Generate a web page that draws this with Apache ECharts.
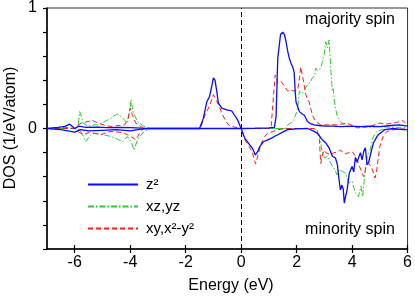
<!DOCTYPE html>
<html><head><meta charset="utf-8">
<script src="https://cdn.jsdelivr.net/npm/echarts@6/dist/echarts.min.js"></script>
<style>html,body{margin:0;padding:0;background:#fff}#c{width:415px;height:296px}</style>
</head><body><div id="c"></div>
<script>
// ---- data (Energy eV, DOS 1/eV/atom) ----
const xTicks = [-6, -4, -2, 0, 2, 4, 6];
const yTicks = [-1, -0.8, -0.6, -0.4, -0.2, 0, 0.2, 0.4, 0.6, 0.8, 1];
const yLabels = [0, 1];
const names = ['z\u00B2', 'xz,yz', 'xy,x\u00B2-y\u00B2'];

const z2Up = [[-7,0],[-6.6,0.01],[-6.36,0.017],[-6.18,0.036],[-6.0,0.0],[-5.85,0.02],[-5.6,0.01],[-5.2,0.012],[-4.8,0.008],[-4.4,0.01],[-4.0,0.008],[-3.6,0.003],[-3.3,0],[-1.5,0],[-1.36,0.086],[-1.24,0.22],[-1.14,0.265],[-1.06,0.35],[-1.0,0.42],[-0.94,0.40],[-0.88,0.31],[-0.82,0.21],[-0.7,0.17],[-0.52,0.155],[-0.34,0.147],[-0.25,0.114],[-0.13,0.072],[0,0],[0.5,0.002],[1.0,0.005],[1.2,0.01],[1.26,0.1],[1.32,0.58],[1.42,0.78],[1.5,0.80],[1.56,0.78],[1.62,0.72],[1.68,0.64],[1.74,0.58],[1.8,0.54],[1.86,0.51],[1.91,0.47],[1.95,0.30],[1.98,0.22],[2.1,0.14],[2.2,0.12],[2.28,0.11],[2.39,0.058],[2.5,0.04],[2.63,0.03],[2.8,0.025],[3.0,0.02],[3.3,0.02],[3.6,0.015],[4.0,0.02],[4.3,0.015],[4.6,0.02],[5.0,0.015],[5.4,0.025],[5.7,0.03],[6.0,0.02]];
const z2Dn = [[-7,0],[-6.5,-0.01],[-6.0,-0.03],[-5.8,-0.01],[-5.5,-0.02],[-5.0,-0.015],[-4.5,-0.01],[-4.0,-0.02],[-3.6,-0.005],[-3.3,0],[0,0],[0.13,-0.08],[0.31,-0.135],[0.42,-0.17],[0.51,-0.22],[0.6,-0.19],[0.67,-0.15],[0.8,-0.11],[0.96,-0.094],[1.1,-0.08],[1.2,-0.066],[1.32,-0.052],[1.5,-0.03],[1.68,-0.01],[2.0,-0.003],[2.39,0],[2.6,-0.02],[2.75,-0.04],[2.93,-0.094],[3.05,-0.12],[3.17,-0.16],[3.29,-0.23],[3.4,-0.245],[3.47,-0.3],[3.53,-0.425],[3.58,-0.51],[3.63,-0.47],[3.68,-0.5],[3.72,-0.62],[3.77,-0.56],[3.82,-0.51],[3.9,-0.37],[4.0,-0.315],[4.06,-0.36],[4.12,-0.24],[4.18,-0.28],[4.3,-0.2],[4.36,-0.26],[4.42,-0.19],[4.48,-0.16],[4.54,-0.3],[4.6,-0.28],[4.65,-0.23],[4.77,-0.12],[4.89,-0.07],[4.95,-0.05],[5.0,-0.04],[5.18,-0.01],[5.48,0],[5.84,-0.01],[6.0,-0.01]];
const xzUp = [[-7,0],[-6.0,0],[-5.88,0.017],[-5.82,0.14],[-5.76,0.1],[-5.7,0.045],[-5.52,0.017],[-5.3,0.03],[-5.17,0.03],[-4.9,0.06],[-4.69,0.086],[-4.55,0.11],[-4.45,0.12],[-4.27,0.086],[-4.1,0.045],[-4.02,0.15],[-3.97,0.24],[-3.92,0.17],[-3.88,0.13],[-3.74,0.058],[-3.5,0.017],[-3.26,0],[1.6,0],[1.68,0.03],[1.86,0.058],[1.95,0.1],[2.04,0.17],[2.1,0.31],[2.2,0.29],[2.3,0.33],[2.39,0.36],[2.48,0.38],[2.57,0.42],[2.65,0.44],[2.69,0.50],[2.75,0.48],[2.81,0.47],[2.87,0.5],[2.93,0.555],[3.0,0.62],[3.05,0.72],[3.11,0.67],[3.17,0.735],[3.2,0.62],[3.23,0.50],[3.26,0.4],[3.29,0.31],[3.32,0.33],[3.35,0.25],[3.4,0.17],[3.46,0.11],[3.55,0.07],[3.64,0.045],[3.8,0.02],[4.2,0.015],[4.6,0.01],[5.0,0.015],[5.5,0.01],[6.0,0.01]];
const xzDn = [[-7,0],[-6.0,0],[-5.82,-0.01],[-5.7,-0.06],[-5.6,-0.11],[-5.52,-0.08],[-5.4,-0.05],[-5.29,-0.04],[-5.0,-0.05],[-4.69,-0.066],[-4.45,-0.09],[-4.27,-0.11],[-4.1,-0.066],[-3.95,-0.12],[-3.86,-0.18],[-3.74,-0.094],[-3.5,-0.025],[-3.26,0],[2.57,0],[2.75,-0.01],[2.85,-0.08],[2.9,-0.17],[3.0,-0.245],[3.11,-0.23],[3.23,-0.29],[3.35,-0.33],[3.46,-0.385],[3.53,-0.34],[3.64,-0.355],[3.76,-0.37],[3.88,-0.45],[4.0,-0.44],[4.12,-0.535],[4.23,-0.565],[4.32,-0.48],[4.38,-0.565],[4.44,-0.425],[4.54,-0.23],[4.65,-0.18],[4.77,-0.066],[4.89,-0.025],[5.07,-0.01],[5.5,-0.005],[6.0,-0.01]];
const xyUp = [[-7,0],[-6.6,0],[-6.36,0.01],[-6.0,0],[-5.88,0.03],[-5.76,0.045],[-5.52,0.058],[-5.35,0.066],[-5.17,0.045],[-4.9,0.025],[-4.69,0.017],[-4.4,0.025],[-4.2,0.03],[-4.08,0.08],[-4.0,0.17],[-3.92,0.11],[-3.8,0.045],[-3.62,0.017],[-3.5,0],[-1.47,0],[-1.3,0.11],[-1.12,0.20],[-1.0,0.28],[-0.94,0.265],[-0.82,0.20],[-0.7,0.13],[-0.58,0.072],[-0.46,0.03],[-0.22,0.01],[0,0],[1.0,0],[1.08,0.01],[1.18,0.31],[1.23,0.445],[1.28,0.40],[1.32,0.375],[1.44,0.39],[1.5,0.37],[1.56,0.35],[1.68,0.31],[1.8,0.32],[1.91,0.31],[2.04,0.32],[2.1,0.42],[2.15,0.51],[2.2,0.50],[2.26,0.38],[2.33,0.28],[2.45,0.22],[2.57,0.11],[2.69,0.058],[2.87,0.03],[3.2,0.03],[3.46,0.03],[3.82,0.045],[4.0,0.025],[4.18,0.005],[4.4,0.01],[4.65,0.017],[5.0,0.045],[5.2,0.035],[5.43,0.045],[5.6,0.05],[5.73,0.058],[5.84,0.065],[5.92,0.045],[6.0,0.03]];
const xyDn = [[-7,0],[-6.0,0],[-5.88,-0.025],[-5.7,-0.05],[-5.5,-0.035],[-5.29,-0.04],[-5.05,-0.05],[-4.8,-0.03],[-4.69,-0.025],[-4.4,-0.03],[-4.2,-0.04],[-3.98,-0.066],[-3.8,-0.094],[-3.62,-0.025],[-3.5,0],[0,0],[0.13,-0.094],[0.25,-0.135],[0.39,-0.19],[0.49,-0.27],[0.52,-0.295],[0.61,-0.22],[0.73,-0.12],[0.85,-0.066],[0.96,-0.04],[1.15,-0.025],[1.32,-0.01],[1.6,0],[2.63,0],[2.75,-0.025],[2.82,-0.09],[2.87,-0.29],[2.93,-0.22],[3.0,-0.18],[3.05,-0.2],[3.12,-0.19],[3.23,-0.22],[3.35,-0.2],[3.46,-0.2],[3.55,-0.18],[3.64,-0.19],[3.75,-0.21],[3.82,-0.22],[3.9,-0.2],[4.0,-0.19],[4.12,-0.23],[4.23,-0.29],[4.36,-0.37],[4.42,-0.4],[4.5,-0.32],[4.6,-0.29],[4.7,-0.32],[4.83,-0.41],[4.89,-0.34],[5.0,-0.15],[5.12,-0.066],[5.25,-0.025],[5.5,-0.01],[6.0,0]];

// ---- styles ----
const FONT = 'Liberation Sans';
const BLUE = '#0a0aff', GREEN = '#2ecc2e', RED = '#ff1a1a';
const styles = {
  b: {color: BLUE, width: 1.3, type: 'solid'},
  g: {color: GREEN, width: 1, type: [6, 2, 1.5, 2]},
  r: {color: RED, width: 1, type: [5, 3]}
};
function mk(name, data, st, z) {
  return {name, type: 'line', data, symbol: 'none', showSymbol: false, z,
    itemStyle: {color: st.color}, lineStyle: {color: st.color, width: st.width, type: st.type}, animation: false};
}
const series = [
  mk(names[1], xzUp, styles.g, 2), mk(names[1], xzDn, styles.g, 2),
  mk(names[2], xyUp, styles.r, 3), mk(names[2], xyDn, styles.r, 3),
  mk(names[0], z2Up, styles.b, 4), mk(names[0], z2Dn, styles.b, 4)
];
series[4].markLine = {silent: true, symbol: 'none', animation: false, label: {show: false},
  lineStyle: {color: '#000', type: [5, 3], width: 1}, data: [{xAxis: 0}]};

const chart = echarts.init(document.getElementById('c'), null, {renderer: 'canvas'});
chart.setOption({
  animation: false,
  backgroundColor: '#fff',
  grid: {left: 47, right: 5, top: 8, bottom: 47, show: true, borderColor: '#333', borderWidth: 1},
  legend: {
    data: names, orient: 'vertical', left: 82, top: 172, itemWidth: 50, itemHeight: 12, itemGap: 7,
    itemStyle: {opacity: 0, borderWidth: 0},
    textStyle: {fontFamily: FONT, fontSize: 15, color: '#000', padding: [0, 0, 0, 3]},
    selectedMode: false
  },
  xAxis: [{
    type: 'value', min: -7, max: 6,
    axisLine: {onZero: false, lineStyle: {color: '#000', width: 1.5}},
    axisTick: {customValues: xTicks, length: 4, lineStyle: {color: '#000', width: 1.2}},
    axisLabel: {customValues: xTicks, fontFamily: FONT, fontSize: 16, color: '#000', margin: 6},
    splitLine: {show: false}
  }, {
    type: 'value', min: -7, max: 6, position: 'bottom',
    axisLine: {show: false, onZero: false},
    axisTick: {customValues: xTicks, inside: true, length: 4, lineStyle: {color: '#000', width: 1.2}},
    axisLabel: {show: false}, splitLine: {show: false}
  }],
  yAxis: {
    type: 'value', min: -1, max: 1,
    axisLine: {onZero: false, lineStyle: {color: '#000', width: 1.5}},
    axisTick: {customValues: yTicks, length: 4, lineStyle: {color: '#000', width: 1.2}},
    axisLabel: {customValues: yLabels, fontFamily: FONT, fontSize: 16, color: '#000', margin: 10},
    splitLine: {show: false}
  },
  graphic: [
    {type: 'text', x: 11, y: 128, rotation: Math.PI / 2, style: {text: 'DOS (1/eV/atom)', font: '16px "Liberation Sans"', fill: '#000', textAlign: 'center', textVerticalAlign: 'middle'}},
    {type: 'text', x: 231, y: 286, style: {text: 'Energy (eV)', font: '16px "Liberation Sans"', fill: '#000', textAlign: 'center', textVerticalAlign: 'middle'}},
    {type: 'text', x: 350, y: 20, style: {text: 'majority spin', font: '16px "Liberation Sans"', fill: '#000', textAlign: 'center', textVerticalAlign: 'middle'}},
    {type: 'text', x: 350, y: 230, style: {text: 'minority spin', font: '16px "Liberation Sans"', fill: '#000', textAlign: 'center', textVerticalAlign: 'middle'}}
  ],
  series
});
</script></body></html>
